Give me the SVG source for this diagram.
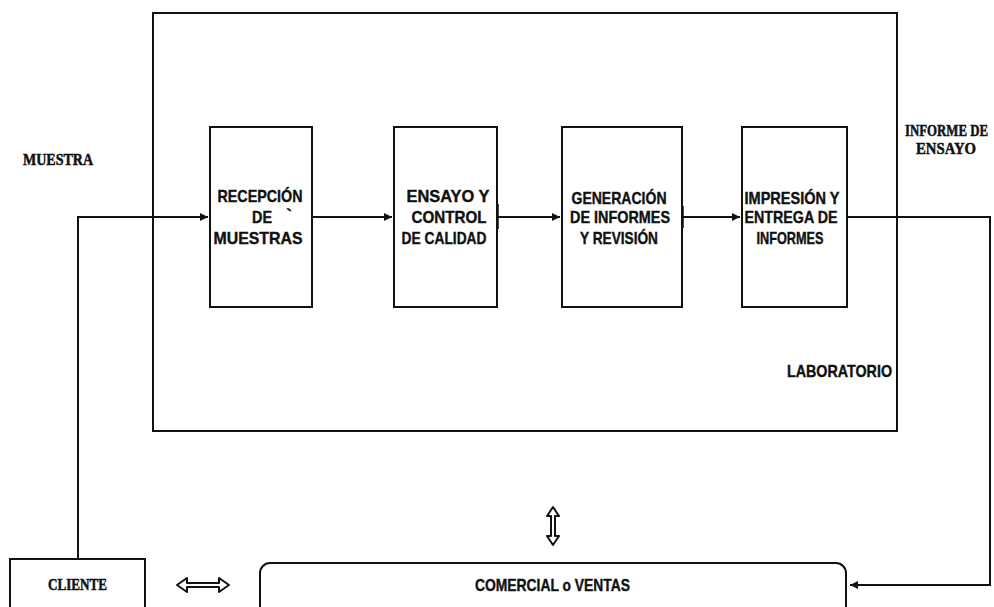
<svg xmlns="http://www.w3.org/2000/svg" width="994" height="607" viewBox="0 0 994 607">
<defs>
<style>
.ln{fill:none;stroke:#111;stroke-width:2}
.bx{fill:#fff;stroke:#111;stroke-width:2}
.tk{stroke:#111;stroke-width:3.5}
.s{font-family:"Liberation Sans",Arial,sans-serif;font-weight:bold;font-size:17px;fill:#111;stroke:#111;stroke-width:0.4;text-anchor:middle}
.r{font-family:"Liberation Serif","Times New Roman",serif;font-weight:bold;font-size:16px;fill:#111;stroke:#111;stroke-width:0.5;text-anchor:middle}
.dbl{fill:#fff;stroke:#111;stroke-width:2;stroke-linejoin:round}
</style>
<marker id="ah" viewBox="0 0 10 10" refX="10" refY="5" markerWidth="10" markerHeight="8" markerUnits="userSpaceOnUse" orient="auto">
<path d="M0,0 L10,5 L0,10 z" fill="#111"/>
</marker>
</defs>
<rect width="994" height="607" fill="#fff"/>

<g id="laboratorio">
<rect class="ln" x="153" y="13" width="744" height="418"/>
<text class="s" x="839.5" y="377" textLength="105" lengthAdjust="spacingAndGlyphs" font-size="15">LABORATORIO</text>
</g>

<g id="connectors">
<path class="ln" d="M78,559 L78,217 L208,217" marker-end="url(#ah)"/>
<path class="ln" d="M312,217 L392,217" marker-end="url(#ah)"/>
<path class="ln" d="M497,217 L560,217" marker-end="url(#ah)"/>
<path class="ln" d="M682,217 L740,217" marker-end="url(#ah)"/>
<path class="ln" d="M847,217 L990,217 L990,585 L850,585" marker-end="url(#ah)"/>
<line class="tk" x1="497" y1="204" x2="497" y2="229"/>
<line class="tk" x1="682" y1="206" x2="682" y2="228"/>
<path class="dbl" d="M177,585 L187,578 L187,583 L219,583 L219,578 L229,585 L219,592 L219,587 L187,587 L187,592 Z"/>
<path class="dbl" d="M553,507 L559,516 L555,516 L555,536 L559,536 L553,545 L547,536 L551,536 L551,516 L547,516 Z"/>
</g>

<g id="recepcion">
<rect class="bx" x="210" y="127" width="102" height="180"/>
<text class="s" x="260" y="202" textLength="85" lengthAdjust="spacingAndGlyphs">RECEPCIÓN</text>
<text class="s" x="262" y="223" textLength="20" lengthAdjust="spacingAndGlyphs">DE</text>
<text class="s" x="289" y="221" font-size="9" stroke-width="0">`</text>
<text class="s" x="258" y="244" textLength="89" lengthAdjust="spacingAndGlyphs">MUESTRAS</text>
</g>

<g id="ensayo">
<rect class="bx" x="394" y="127" width="103" height="180"/>
<text class="s" x="448" y="202" textLength="83" lengthAdjust="spacingAndGlyphs">ENSAYO Y</text>
<text class="s" x="449" y="223" textLength="75" lengthAdjust="spacingAndGlyphs">CONTROL</text>
<text class="s" x="444" y="244" textLength="85" lengthAdjust="spacingAndGlyphs">DE CALIDAD</text>
</g>

<g id="generacion">
<rect class="bx" x="562" y="127" width="120" height="180"/>
<text class="s" x="619" y="204" textLength="95" lengthAdjust="spacingAndGlyphs">GENERACIÓN</text>
<text class="s" x="620" y="223" textLength="100" lengthAdjust="spacingAndGlyphs">DE INFORMES</text>
<text class="s" x="619" y="244" textLength="78" lengthAdjust="spacingAndGlyphs">Y REVISIÓN</text>
</g>

<g id="impresion">
<rect class="bx" x="742" y="127" width="105" height="180"/>
<text class="s" x="792" y="204" textLength="95" lengthAdjust="spacingAndGlyphs">IMPRESIÓN Y</text>
<text class="s" x="791" y="223" textLength="93" lengthAdjust="spacingAndGlyphs">ENTREGA DE</text>
<text class="s" x="790" y="244" textLength="67" lengthAdjust="spacingAndGlyphs">INFORMES</text>
</g>

<g id="muestra">
<text class="r" x="58" y="165" textLength="70" lengthAdjust="spacingAndGlyphs">MUESTRA</text>
</g>

<g id="informe">
<text class="r" x="946.5" y="136" font-size="13.5" textLength="83" lengthAdjust="spacingAndGlyphs">INFORME DE</text>
<text class="r" x="946" y="154" textLength="60" lengthAdjust="spacingAndGlyphs">ENSAYO</text>
</g>

<g id="cliente">
<rect class="bx" x="10" y="559" width="135" height="70"/>
<text class="r" x="77.5" y="590" textLength="59" lengthAdjust="spacingAndGlyphs">CLIENTE</text>
</g>

<g id="comercial">
<rect class="bx" x="260" y="563" width="586" height="70" rx="10" ry="10"/>
<text class="s" x="552.5" y="591" textLength="155" lengthAdjust="spacingAndGlyphs">COMERCIAL o VENTAS</text>
</g>
</svg>
